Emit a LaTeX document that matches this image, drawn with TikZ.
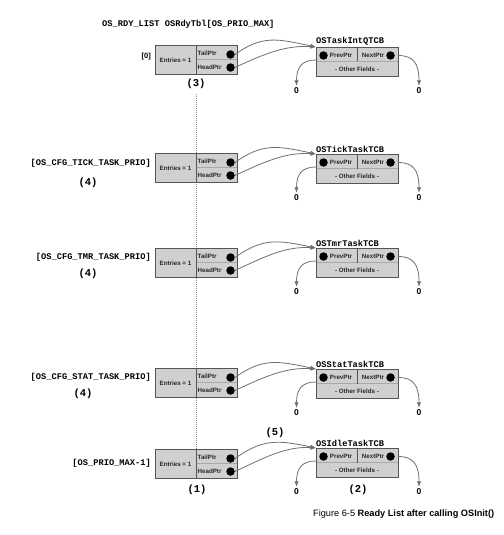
\documentclass[tikz,border=0pt]{standalone}
\usepackage{fontspec}
\setmainfont{Liberation Sans}
\newfontfamily\cour{Liberation Mono}
\usetikzlibrary{arrows.meta}
\definecolor{boxfill}{HTML}{D0D0D0}
\definecolor{boxline}{HTML}{555555}
\definecolor{midc}{HTML}{A8A8A8}
\definecolor{arrowc}{HTML}{707070}
\tikzset{
  listbox/.style={draw=boxline, fill=boxfill, line width=0.9pt, minimum width=82pt, minimum height=29pt, inner sep=0pt, anchor=north west},
  divline/.style={draw=boxline, line width=0.7pt},
  midline/.style={draw=midc, line width=0.5pt},
  boxtext/.style={font=\fontsize{6.2}{7}\selectfont\bfseries, text=black!85, inner sep=0pt},
  dot/.style={circle, fill=black, minimum size=8.5pt, inner sep=0pt},
  tcbtitle/.style={font=\cour\fontsize{8.7}{10}\selectfont\bfseries, inner sep=0pt, anchor=south west},
  idxlabel/.style={font=\cour\fontsize{8.7}{10}\selectfont\bfseries, inner sep=0pt, anchor=east},
  callout/.style={font=\cour\fontsize{10.5}{12}\selectfont\bfseries, inner sep=0pt},
  zero/.style={font=\fontsize{8.5}{10}\selectfont\bfseries, inner sep=0pt},
  ptr/.style={draw=arrowc, line width=0.8pt, -{Latex[length=5.5pt,width=4.5pt]}},
  dotline/.style={draw=black!45, line width=0.7pt, dash pattern=on 1pt off 1pt},
}
\newcommand\readyrow[4]{%
  % list entry
  \node[listbox] (L#1) at (155,#2) {};
  \draw[midline] (196,#2+14.5) -- (236.5,#2+14.5);
  \draw[divline] (196,#2) -- (196,#2+29);
  \node[boxtext] (E#1) at (175.5,#2+15) {Entries = 1};
  \node[boxtext, anchor=west] (T#1) at (197.5,#2+8.5) {TailPtr};
  \node[boxtext, anchor=west] (H#1) at (197.5,#2+22) {HeadPtr};
  \node[dot] (DT#1) at (230.5,#2+9.5) {};
  \node[dot] (DH#1) at (230.5,#2+22.5) {};
  % TCB
  \node[listbox] (B#1) at (316,#3) {};
  \draw[midline] (316.5,#3+14.5) -- (397.5,#3+14.5);
  \draw[divline] (357,#3) -- (357,#3+14.5);
  \node[dot] (P#1) at (323.5,#3+8.5) {};
  \node[boxtext] (PT#1) at (341,#3+8) {PrevPtr};
  \node[boxtext] (NT#1) at (373,#3+8) {NextPtr};
  \node[dot] (N#1) at (390.5,#3+8.5) {};
  \node[boxtext] (O#1) at (357,#3+22) {- Other Fields -};
  \node[tcbtitle] (TT#1) at (316,#3-1.5) {#4};
  \node[zero] (ZL#1) at (296.5,#3+44) {0};
  \node[zero] (ZR#1) at (419,#3+44) {0};
  % pointers
  \draw[ptr] (DT#1.east) .. controls +(28,-20) and +(-38,-8) .. (B#1.north west);
  \draw[ptr] (DH#1.east) .. controls +(30,-14) and +(-30,-2) .. (B#1.north west);
  \draw[ptr] (316,#3+13) .. controls (302,#3+13) and (296.5,#3+20) .. ([yshift=2pt]ZL#1.north);
  \draw[ptr] (398,#3+8.5) .. controls (413,#3+8.5) and (419,#3+16) .. ([yshift=2pt]ZR#1.north);
}
\begin{document}
\begin{tikzpicture}[x=1pt, y=-1pt]
  \useasboundingbox (0,0) rectangle (503,535);
  \fill[white] (0,0) rectangle (503,535);
  \node[callout] (c3) at (196,84) {(3)};
  \coordinate (dtop) at (196,94);
  \coordinate (dbot) at (196,449);
  \draw[dotline] (dtop) -- (dbot);
  \node[font=\cour\fontsize{8.7}{10}\selectfont\bfseries, inner sep=0pt, anchor=west] (hdr) at (102,24) {OS\_RDY\_LIST OSRdyTbl[OS\_PRIO\_MAX]};
  \readyrow{1}{45}{47}{OSTaskIntQTCB}
  \readyrow{2}{153}{154}{OSTickTaskTCB}
  \readyrow{3}{248}{248}{OSTmrTaskTCB}
  \readyrow{4}{368}{369}{OSStatTaskTCB}
  \readyrow{5}{449}{448}{OSIdleTaskTCB}
  \node[font=\fontsize{7.5}{9}\selectfont\bfseries, inner sep=0pt, anchor=east] (i1) at (151,57) {[0]};
  \node[idxlabel] (i2) at (151,163) {[OS\_CFG\_TICK\_TASK\_PRIO]};
  \node[callout] (c4a) at (88,183) {(4)};
  \node[idxlabel] (i3) at (151,257) {[OS\_CFG\_TMR\_TASK\_PRIO]};
  \node[callout] (c4b) at (88,274) {(4)};
  \node[idxlabel] (i4) at (151,377) {[OS\_CFG\_STAT\_TASK\_PRIO]};
  \node[callout] (c4c) at (83,394) {(4)};
  \node[idxlabel] (i5) at (151,463) {[OS\_PRIO\_MAX-1]};
  \node[callout] (c1) at (197,490) {(1)};
  \node[callout] (c5) at (275,433) {(5)};
  \node[callout] (c2) at (358,490) {(2)};
  \node[font=\fontsize{9.2}{11}\selectfont, inner sep=0pt, anchor=west] (cap) at (313,514) {Figure 6-5 \textbf{Ready List after calling OSInit()}};
\end{tikzpicture}
\end{document}
